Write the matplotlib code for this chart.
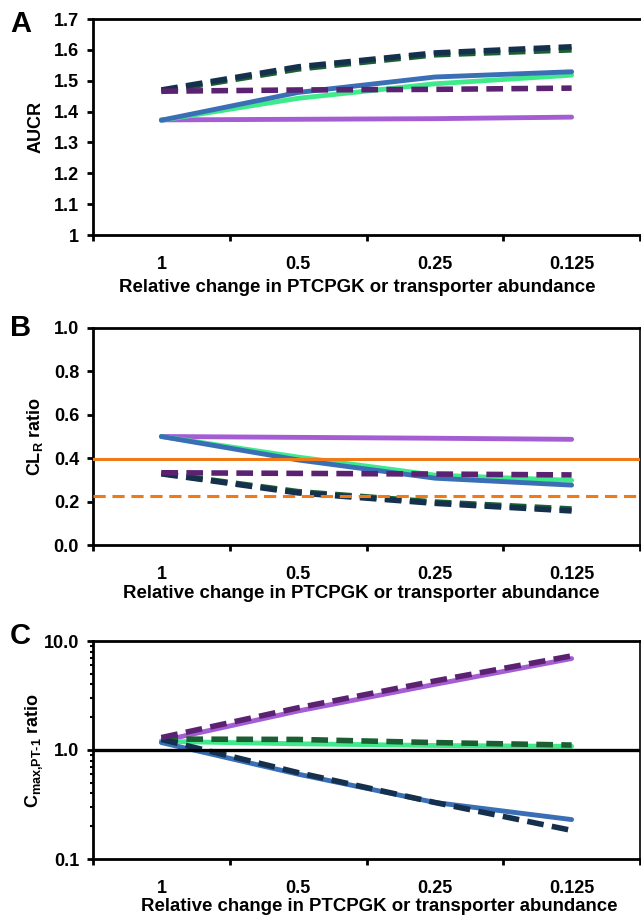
import numpy as np
import matplotlib.pyplot as plt
from matplotlib.ticker import FixedLocator, LogLocator, NullFormatter

plt.rcParams['font.family'] = ['Liberation Sans', 'DejaVu Sans']
plt.rcParams['font.weight'] = 'bold'
plt.rcParams['axes.labelweight'] = 'bold'
plt.rcParams['mathtext.fontset'] = 'custom'
plt.rcParams['mathtext.rm'] = 'Liberation Sans'
plt.rcParams['mathtext.bf'] = 'Liberation Sans:bold'

# x categories: relative change in PTCPGK or transporter abundance
abundance = ['1', '0.5', '0.25', '0.125']

# panel A - AUCR
aucr_purple_solid = [1.373, 1.375, 1.377, 1.382]
aucr_green_solid = [1.372, 1.443, 1.490, 1.518]
aucr_blue_solid = [1.372, 1.462, 1.512, 1.529]
aucr_purple_dash = [1.466, 1.470, 1.472, 1.476]
aucr_dkgreen_dash = [1.465, 1.538, 1.584, 1.600]
aucr_navy_dash = [1.470, 1.545, 1.590, 1.610]

# panel B - CL_R ratio
clr_purple_solid = [0.500, 0.496, 0.492, 0.487]
clr_green_solid = [0.500, 0.405, 0.322, 0.298]
clr_blue_solid = [0.500, 0.392, 0.308, 0.276]
clr_purple_dash = [0.333, 0.330, 0.327, 0.323]
clr_dkgreen_dash = [0.330, 0.246, 0.198, 0.166]
clr_navy_dash = [0.328, 0.240, 0.192, 0.157]
clr_limit_solid = 0.397
clr_limit_dash = 0.228

# panel C - Cmax,PT-1 ratio
cmax_purple_solid = [1.21, 2.28, 4.0, 6.9]
cmax_green_solid = [1.20, 1.14, 1.10, 1.08]
cmax_blue_solid = [1.17, 0.60, 0.33, 0.23]
cmax_purple_dash = [1.30, 2.44, 4.3, 7.3]
cmax_dkgreen_dash = [1.26, 1.25, 1.17, 1.11]
cmax_navy_dash = [1.25, 0.62, 0.33, 0.183]

c_purple = '#A45DD3'
c_dkpurple = '#5B2271'
c_blue = '#3A6FB6'
c_navy = '#15304D'
c_green = '#3FEA8B'
c_dkgreen = '#1B5E31'
c_orange = '#F07A15'

xlabel = 'Relative change in PTCPGK or transporter abundance'
FS = 13
XFS = 13.4

fig = plt.figure(figsize=(6.41, 9.17), dpi=100)
L, W = 93 / 641, 547 / 641


def add_panel(top_px, bot_px):
    ax = fig.add_axes([L, 1 - bot_px / 917, W, (bot_px - top_px) / 917])
    for s in ax.spines.values():
        s.set_linewidth(2.0)
    ax.spines['right'].set_linewidth(1.2)
    x = np.arange(len(abundance))
    ax.set_xlim(-0.5, 3.5)
    ax.set_xticks(x, abundance)
    ax.xaxis.set_minor_locator(FixedLocator([-0.5, 0.5, 1.5, 2.5, 3.5]))
    ax.tick_params(axis='x', which='major', length=0, pad=15, labelsize=FS)
    ax.tick_params(axis='x', which='minor', length=4, width=2, direction='out')
    ax.tick_params(axis='y', which='major', length=4, width=2, direction='out',
                   pad=6, labelsize=FS)
    ax.yaxis.set_label_coords(-0.088, 0.5)
    return ax, x


def draw(ax, x, series):
    for y, col, ls in series:
        if ls == '-':
            ax.plot(x, y, color=col, lw=3.5, solid_capstyle='round', zorder=2)
        else:
            ax.plot(x, y, color=col, lw=4.0, ls=(0, (3.0, 1.5)), zorder=3)


# ---- A
axA, x = add_panel(19, 235)
draw(axA, x, [
    (aucr_purple_solid, c_purple, '-'),
    (aucr_green_solid, c_green, '-'),
    (aucr_blue_solid, c_blue, '-'),
    (aucr_dkgreen_dash, c_dkgreen, '--'),
    (aucr_navy_dash, c_navy, '--'),
    (aucr_purple_dash, c_dkpurple, '--'),
])
axA.set_ylim(1.0, 1.7)
axA.set_yticks(np.arange(1.0, 1.71, 0.1), ['1', '1.1', '1.2', '1.3', '1.4', '1.5', '1.6', '1.7'])
axA.spines['right'].set_visible(False)
axA.set_ylabel('AUCR', fontsize=FS)
axA.set_xlabel(xlabel, fontsize=XFS)
axA.xaxis.set_label_coords(0.483, -0.205)

# ---- B
axB, x = add_panel(328, 545)
draw(axB, x, [
    (clr_purple_solid, c_purple, '-'),
    (clr_green_solid, c_green, '-'),
    (clr_blue_solid, c_blue, '-'),
    (clr_dkgreen_dash, c_dkgreen, '--'),
    (clr_navy_dash, c_navy, '--'),
    (clr_purple_dash, c_dkpurple, '--'),
])
axB.axhline(clr_limit_solid, color=c_orange, lw=2.2, zorder=4)
axB.axhline(clr_limit_dash, color=c_orange, lw=2.2, ls=(0, (4, 2.2)), zorder=4)
axB.set_ylim(0, 1.0)
axB.set_yticks(np.arange(0, 1.01, 0.2), ['0.0', '0.2', '0.4', '0.6', '0.8', '1.0'])
axB.set_ylabel(r'CL$_{\mathrm{R}}$ ratio', fontsize=FS)
axB.set_xlabel(xlabel, fontsize=XFS)
axB.xaxis.set_label_coords(0.49, -0.185)

# ---- C
axC, x = add_panel(641, 859)
draw(axC, x, [
    (cmax_purple_solid, c_purple, '-'),
    (cmax_green_solid, c_green, '-'),
    (cmax_blue_solid, c_blue, '-'),
    (cmax_dkgreen_dash, c_dkgreen, '--'),
    (cmax_navy_dash, c_navy, '--'),
    (cmax_purple_dash, c_dkpurple, '--'),
])
axC.axhline(1.0, color='black', lw=2.4, zorder=5)
axC.set_yscale('log')
axC.set_ylim(0.1, 10)
axC.set_yticks([0.1, 1, 10], ['0.1', '1.0', '10.0'])
axC.yaxis.set_minor_locator(LogLocator(base=10, subs=np.arange(2, 10)))
axC.yaxis.set_minor_formatter(NullFormatter())
axC.tick_params(axis='y', which='minor', length=2.5, width=1.5, direction='out')
axC.set_ylabel(r'C$_{\mathrm{max{,}PT\text{-}1}}$ ratio', fontsize=FS)
axC.set_xlabel(xlabel, fontsize=XFS)
axC.xaxis.set_label_coords(0.523, -0.18)

for lab, ypx in [('A', 24), ('B', 328), ('C', 636)]:
    fig.text(10 / 641, 1 - ypx / 917, lab, fontsize=21, fontweight='bold', va='center', ha='left')

fig.savefig('out.png', dpi=100)
